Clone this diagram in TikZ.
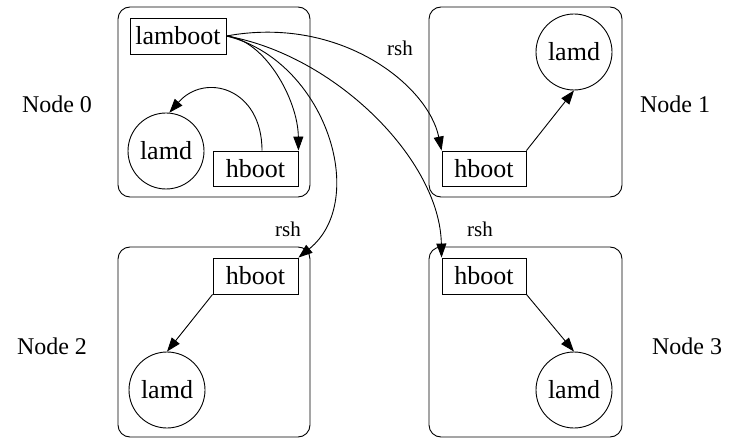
\documentclass[tikz,border=0pt]{standalone}
\usepackage{fontspec}
\setmainfont{Liberation Serif}
\usetikzlibrary{arrows.meta,calc}
\begin{document}
\begin{tikzpicture}[x=1pt,y=-1pt,
  cluster/.style={draw,line width=0.9pt,rounded corners=12pt},
  boxnode/.style={draw,line width=0.9pt,inner sep=0pt,font=\fontsize{26}{26}\selectfont},
  daemon/.style={draw,circle,line width=0.9pt,inner sep=0pt,minimum size=76pt,font=\fontsize{26}{26}\selectfont},
  hostlabel/.style={font=\fontsize{24}{24}\selectfont},
  edgelabel/.style={font=\fontsize{21}{21}\selectfont},
  link/.style={line width=0.9pt,-{Triangle[length=14pt,width=10pt]}}]
\useasboundingbox (0,0) rectangle (730,438);

% host frames
\draw[cluster] (118,7) rectangle (310,197);
\draw[cluster] (429,7) rectangle (622,197);
\draw[cluster] (118,247) rectangle (310,437);
\draw[cluster] (429,247) rectangle (622,437);

% host names
\node[hostlabel] (n0) at (57,104) {Node 0};
\node[hostlabel] (n1) at (675,104) {Node 1};
\node[hostlabel] (n2) at (52,346) {Node 2};
\node[hostlabel] (n3) at (687,346) {Node 3};

% processes
\node[boxnode,minimum width=96pt,minimum height=36pt] (lamboot) at (178,36) {lamboot};
\node[boxnode,minimum width=85pt,minimum height=35pt] (hb0) at (255.5,168.5) {hboot};
\node[daemon] (ld0) at (166,151) {lamd};

\node[boxnode,minimum width=84pt,minimum height=35pt] (hb1) at (484,168.5) {hboot};
\node[daemon] (ld1) at (574,52) {lamd};

\node[boxnode,minimum width=85pt,minimum height=36pt] (hb2) at (255.5,276) {hboot};
\node[daemon] (ld2) at (167,390) {lamd};

\node[boxnode,minimum width=84pt,minimum height=36pt] (hb3) at (484,276) {hboot};
\node[daemon] (ld3) at (574,390) {lamd};

% lamboot starts the boot daemons
\draw[link] (lamboot.east) .. controls (265,40) and (298,100) .. (hb0.north east);
\draw[link] (lamboot.east) .. controls (340,15) and (428,85) .. (hb1.north west);
\draw[link] (lamboot.east) .. controls (325,60) and (370,200) .. (hb2.north east);
\draw[link] (lamboot.east) .. controls (335,55) and (440,160) .. (hb3.north west);

\node[edgelabel] (r1) at (400,48) {rsh};
\node[edgelabel] (r2) at (288,229) {rsh};
\node[edgelabel] (r3) at (480,229) {rsh};

% boot daemons launch lamd
\draw[link] ($(hb0.north)+(6.5,0)$) .. controls (262,88) and (205,72) .. (ld0.85);
\draw[link] (hb1.north east) -- (ld1.south);
\draw[link] (hb2.south west) -- (ld2.north);
\draw[link] (hb3.south east) -- (ld3.north);
\end{tikzpicture}
\end{document}
